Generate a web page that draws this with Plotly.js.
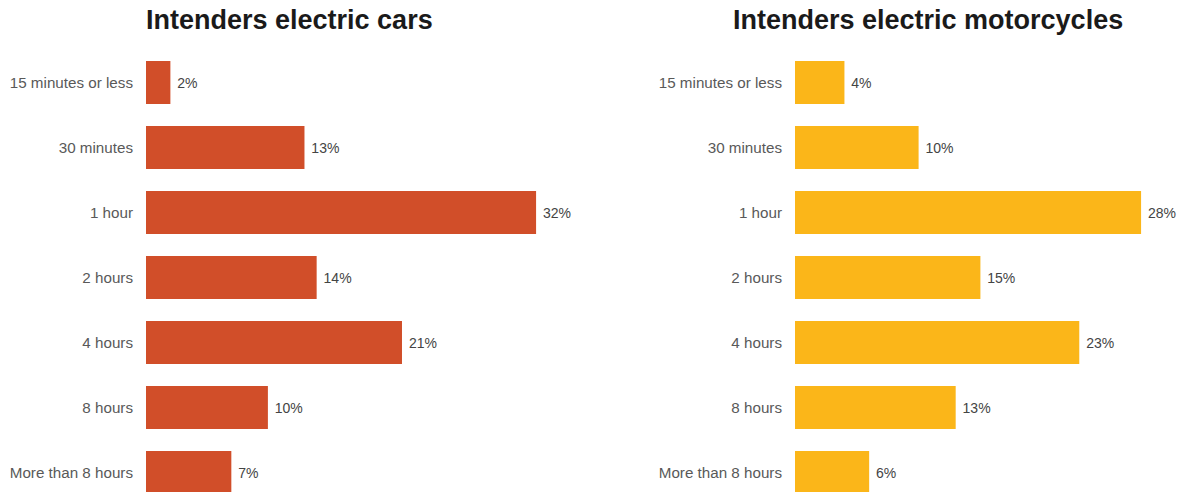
<!DOCTYPE html>
<html>
<head>
<meta charset="utf-8">
<script src="https://cdn.plot.ly/plotly-3.0.1.min.js"></script>
<style>html,body{margin:0;padding:0;background:#fff;}#chart{width:1184px;height:492px;}</style>
</head>
<body>
<div id="chart"></div>
<script>
const categories = ["15 minutes or less", "30 minutes", "1 hour", "2 hours", "4 hours", "8 hours", "More than 8 hours"];
const carsValues = [2, 13, 32, 14, 21, 10, 7];
const motoValues = [4, 10, 28, 15, 23, 13, 6];
const titles = ["Intenders electric cars", "Intenders electric motorcycles"];

const W = 1184, H = 492;
const font = "Liberation Sans, Arial, Helvetica, sans-serif";

const traces = [
  {
    type: 'bar', orientation: 'h', y: categories, x: carsValues,
    xaxis: 'x', yaxis: 'y',
    marker: {color: '#D14E29'},
    text: carsValues.map(v => v + '%'), texttemplate: ' %{text}',
    textposition: 'outside', cliponaxis: false,
    textfont: {family: font, size: 14, color: '#444444'},
    hoverinfo: 'skip'
  },
  {
    type: 'bar', orientation: 'h', y: categories, x: motoValues,
    xaxis: 'x2', yaxis: 'y2',
    marker: {color: '#FBB619'},
    text: motoValues.map(v => v + '%'), texttemplate: ' %{text}',
    textposition: 'outside', cliponaxis: false,
    textfont: {family: font, size: 14, color: '#444444'},
    hoverinfo: 'skip'
  }
];

const yCommon = {
  type: 'category', range: [6.3, -0.5], showgrid: false, zeroline: false, showline: false,
  ticks: '', ticklabelstandoff: 12,
  tickfont: {family: font, size: 15.2, color: '#595959'}, fixedrange: true
};
const xCommon = {visible: false, showgrid: false, zeroline: false, fixedrange: true};

const layout = {
  width: W, height: H,
  margin: {l: 0, r: 0, t: 50, b: 0, pad: 0},
  paper_bgcolor: '#ffffff', plot_bgcolor: '#ffffff',
  showlegend: false,
  bargap: 0.338,
  xaxis: Object.assign({}, xCommon, {domain: [146 / W, 620 / W], range: [0, 474 / 12.19]}),
  yaxis: Object.assign({}, yCommon, {anchor: 'x'}),
  xaxis2: Object.assign({}, xCommon, {domain: [795 / W, 1], range: [0, 389 / 12.36]}),
  yaxis2: Object.assign({}, yCommon, {anchor: 'x2'}),
  annotations: [
    {text: '<b>' + titles[0] + '</b>', xref: 'paper', yref: 'paper', x: (146 - 2) / W, y: 1 + 30 / 442,
     xanchor: 'left', yanchor: 'middle', showarrow: false,
     font: {family: font, size: 27, color: '#1a1a1a'}},
    {text: '<b>' + titles[1] + '</b>', xref: 'paper', yref: 'paper', x: (733 - 2) / W, y: 1 + 30 / 442,
     xanchor: 'left', yanchor: 'middle', showarrow: false,
     font: {family: font, size: 27, color: '#1a1a1a'}}
  ]
};

Plotly.newPlot('chart', traces, layout, {displayModeBar: false, staticPlot: true});
</script>
</body>
</html>
